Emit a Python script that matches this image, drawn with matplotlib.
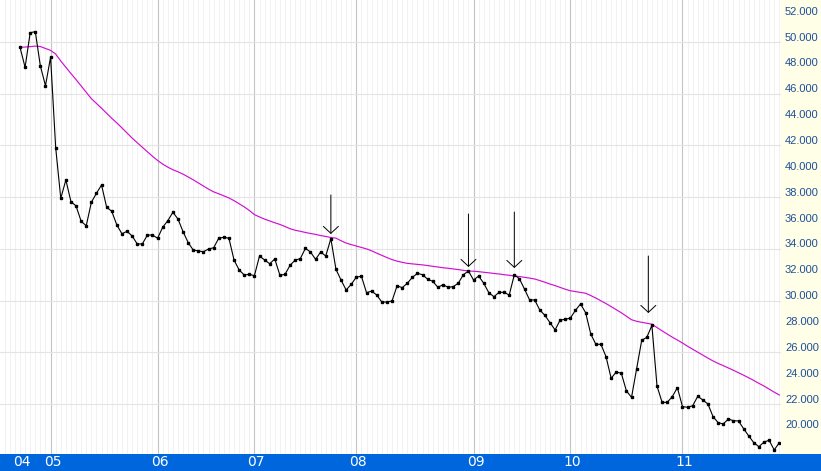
"""
plot.py - weekly price chart with moving average and arrow marks
"""

import numpy as np
import matplotlib
matplotlib.use("Agg")
import matplotlib.pyplot as plt
from matplotlib import transforms

# ================= DATA =================
PRICE = [
    49.59, 48.04, 50.72, 50.80, 48.14, 46.62, 48.83, 41.83, 37.91, 39.33,
    37.65, 37.32, 36.13, 35.79, 37.60, 38.30, 38.94, 37.22, 36.91, 35.85,
    35.17, 35.36, 35.00, 34.38, 34.38, 35.07, 35.07, 34.82, 35.67, 36.18,
    36.83, 36.31, 35.33, 34.48, 33.91, 33.84, 33.78, 33.99, 34.09, 34.82,
    34.90, 34.82, 33.14, 32.37, 31.98, 32.03, 31.93, 33.45, 33.14, 32.85,
    33.22, 31.96, 32.03, 32.73, 33.14, 33.24, 34.04, 33.76, 33.19, 33.76,
    33.45, 34.79, 32.42, 31.59, 30.82, 31.26, 31.82, 31.88, 30.61, 30.74,
    30.43, 29.89, 29.89, 29.97, 31.15, 31.00, 31.34, 31.80, 32.11, 32.00,
    31.65, 31.49, 31.03, 31.23, 31.03, 31.08, 31.34, 32.00, 32.29, 31.59,
    31.90, 31.34, 30.61, 30.30, 30.64, 30.64, 30.43, 32.00, 31.69, 30.89,
    30.05, 30.05, 29.27, 28.86, 28.29, 27.73, 28.50, 28.55, 28.65, 29.25,
    29.74, 29.06, 27.42, 26.62, 26.62, 25.66, 23.99, 24.48, 24.38, 23.01,
    22.52, 24.71, 26.93, 27.16, 28.08, 23.40, 22.13, 22.13, 22.57, 23.27,
    21.80, 21.75, 21.87, 22.60, 22.31, 22.00, 21.02, 20.56, 20.46, 20.84,
    20.71, 20.69, 20.09, 19.53, 19.01, 18.70, 19.06, 19.20, 18.45, 19.01,
]

MOVING_AVG = [
    49.59, 49.61, 49.64, 49.68, 49.65, 49.50, 49.35, 49.07, 48.53, 48.04,
    47.56, 47.09, 46.60, 46.10, 45.62, 45.25, 44.88, 44.49, 44.10, 43.74,
    43.36, 42.96, 42.57, 42.21, 41.86, 41.51, 41.16, 40.84, 40.56, 40.32,
    40.12, 39.96, 39.78, 39.56, 39.34, 39.10, 38.85, 38.62, 38.41, 38.26,
    38.10, 37.94, 37.73, 37.49, 37.25, 36.97, 36.65, 36.47, 36.30, 36.16,
    36.02, 35.89, 35.73, 35.56, 35.44, 35.36, 35.27, 35.19, 35.12, 35.03,
    34.96, 34.88, 34.83, 34.63, 34.45, 34.33, 34.22, 34.11, 34.00, 33.85,
    33.67, 33.50, 33.33, 33.17, 33.05, 32.96, 32.88, 32.84, 32.80, 32.76,
    32.71, 32.65, 32.60, 32.54, 32.50, 32.45, 32.40, 32.34, 32.29, 32.27,
    32.24, 32.19, 32.15, 32.10, 32.06, 32.00, 31.96, 31.90, 31.86, 31.80,
    31.74, 31.67, 31.55, 31.42, 31.28, 31.16, 31.02, 30.88, 30.76, 30.70,
    30.63, 30.57, 30.39, 30.20, 29.98, 29.77, 29.53, 29.30, 29.06, 28.79,
    28.52, 28.40, 28.32, 28.25, 28.17, 27.91, 27.66, 27.41, 27.17, 26.95,
    26.72, 26.47, 26.24, 26.01, 25.78, 25.55, 25.33, 25.14, 24.97, 24.79,
    24.61, 24.42, 24.23, 24.03, 23.82, 23.60, 23.39, 23.15, 22.92, 22.70,
]

YEAR_LABELS = ["04", "05", "06", "07", "08", "09", "10", "11"]
YEAR_IDX = [0, 6, 27, 46, 66, 89, 108, 130]

PRICE_TICKS = list(range(20, 53, 2))
GRID_LEVELS = list(range(22, 51, 4))

# arrows: bar index, arrow tip value, arrow tail value
ARROW_IDX = [61, 88, 97, 123.3]
ARROW_TIP = [35.15, 32.60, 32.52, 29.04]
ARROW_TAIL = [38.17, 36.70, 36.85, 33.45]

# ================= STYLE =================
W_PX, H_PX = 821, 471
PLOT_W_PX = 781
BAR_H_PX = 17
PX_PER_BAR = 5.096
X_MIN = -3.925
Y_MIN, Y_MAX = 18.136, 53.248

BLUE = "#0066DD"
PANEL = "#FFFFE8"
LABEL_BLUE = "#1F4E99"
MAGENTA = "#D010D0"
# =========================================


def main():
    fig = plt.figure(figsize=(W_PX / 100, H_PX / 100), dpi=100, facecolor="white")

    x = np.arange(len(PRICE))
    x_max = X_MIN + PLOT_W_PX / PX_PER_BAR

    # --- main chart area ---
    ax = fig.add_axes([0, BAR_H_PX / H_PX, PLOT_W_PX / W_PX, 1 - BAR_H_PX / H_PX])
    ax.set_facecolor("white")
    ax.set_xlim(X_MIN, x_max)
    ax.set_ylim(Y_MIN, Y_MAX)

    ax.set_xticks(YEAR_IDX[1:])
    ax.set_xticks(np.arange(-3, len(PRICE)), minor=True)
    ax.set_yticks(GRID_LEVELS)
    ax.tick_params(which="both", length=0, labelbottom=False, labelleft=False)
    ax.grid(which="minor", axis="x", color="#F1F1F1", linewidth=0.7)
    ax.grid(which="major", axis="x", color="#C4C4C4", linewidth=0.8)
    ax.grid(which="major", axis="y", color="#E4E4E4", linewidth=0.8)
    ax.set_axisbelow(True)
    for spine in ax.spines.values():
        spine.set_visible(False)

    ax.plot(x, MOVING_AVG, color=MAGENTA, linewidth=0.85, zorder=2)
    ax.plot(x, PRICE, color="black", linewidth=0.8, marker="s",
            markersize=1.9, zorder=3)

    for xi, tip, tail in zip(ARROW_IDX, ARROW_TIP, ARROW_TAIL):
        ax.annotate(
            "", xy=(xi, tip), xytext=(xi, tail),
            arrowprops=dict(arrowstyle="->,head_length=0.5,head_width=0.54",
                            color="black", linewidth=0.7,
                            shrinkA=0, shrinkB=0, mutation_scale=10),
            zorder=4,
        )

    # --- right price scale panel ---
    ax_r = fig.add_axes([PLOT_W_PX / W_PX, BAR_H_PX / H_PX,
                         1 - PLOT_W_PX / W_PX, 1 - BAR_H_PX / H_PX])
    ax_r.set_facecolor(PANEL)
    ax_r.set_xlim(0, 1)
    ax_r.set_ylim(Y_MIN, Y_MAX)
    ax_r.set_xticks([])
    ax_r.set_yticks([])
    for spine in ax_r.spines.values():
        spine.set_visible(False)
    lift = transforms.offset_copy(ax_r.transData, fig=fig, y=3.2, units="points")
    for v in PRICE_TICKS:
        ax_r.text(0.1, v, f"{v}.000", transform=lift, ha="left", va="center",
                  fontsize=8, color=LABEL_BLUE, family=["Liberation Sans", "DejaVu Sans"])

    # --- bottom time bar ---
    ax_b = fig.add_axes([0, 0, 1, BAR_H_PX / H_PX])
    ax_b.set_facecolor(BLUE)
    ax_b.set_xlim(X_MIN, X_MIN + W_PX / PX_PER_BAR)
    ax_b.set_ylim(0, 1)
    ax_b.set_xticks([])
    ax_b.set_yticks([])
    for spine in ax_b.spines.values():
        spine.set_visible(False)
    nudge = transforms.offset_copy(ax_b.transData, fig=fig, x=1.4, units="points")
    for idx, lab in zip(YEAR_IDX, YEAR_LABELS):
        ax_b.text(idx, 0.5, lab, transform=nudge, ha="center", va="center",
                  fontsize=10, color="white",
                  family=["Liberation Sans Narrow", "DejaVu Sans"])

    fig.savefig("out.png", dpi=100, facecolor="white")
    plt.close(fig)


if __name__ == "__main__":
    main()
